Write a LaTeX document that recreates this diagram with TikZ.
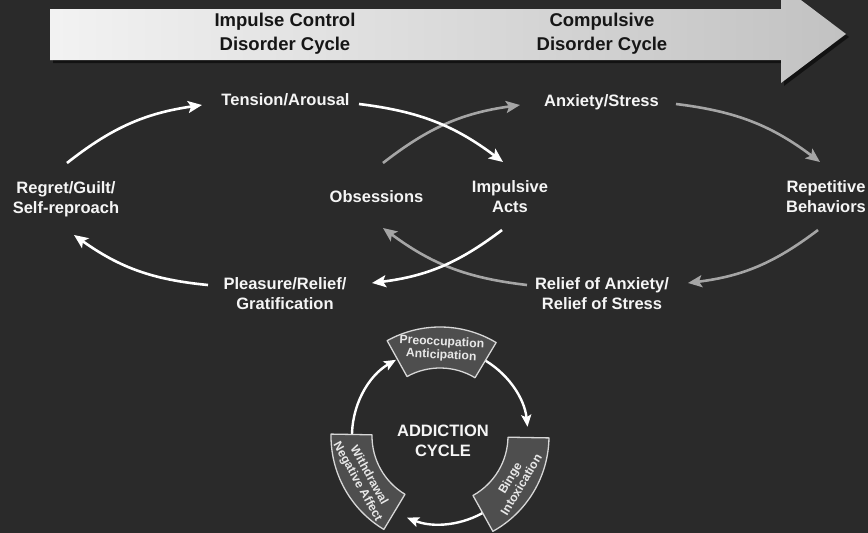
\documentclass[tikz,border=0pt]{standalone}
\usepackage{fontspec}
\setmainfont{Liberation Sans}
\usetikzlibrary{arrows.meta,calc}
\definecolor{bg}{RGB}{42,42,42}
\definecolor{lbl}{RGB}{245,245,245}
\definecolor{gar}{RGB}{165,165,165}
\definecolor{boxfill}{RGB}{78,78,78}
\definecolor{boxline}{RGB}{215,215,215}
\definecolor{boxtxt}{RGB}{232,232,232}
\definecolor{hdr}{RGB}{22,22,22}
\begin{document}
\begin{tikzpicture}[x=1pt,y=1pt,
  lab/.style={text=lbl, font=\fontsize{16.5}{20}\selectfont\bfseries, align=center, inner sep=0pt},
  hdrlab/.style={text=hdr, font=\fontsize{18.5}{24}\selectfont\bfseries, align=center, inner sep=0pt},
  warrow/.style={draw=white, line width=2.6pt, -{Stealth[length=14pt,width=12pt,inset=3pt]}},
  garrow/.style={warrow, draw=gar},
  carrow/.style={draw=white, line width=2.4pt, -{Stealth[length=12pt,width=10pt,inset=2.5pt]}},
  ringbox/.style={fill=boxfill, draw=boxline, line width=1.3pt, line join=round},
  boxlab/.style={text=boxtxt, font=\fontsize{12.2}{13}\selectfont\bfseries, align=center, inner sep=0pt}
]
\useasboundingbox (0,0) rectangle (868,-533);
\fill[bg] (0,0) rectangle (868,-533);
% header arrow
\fill[black, opacity=0.55] (53,-12) -- (784,-12) -- (784,12) -- (849,-37) -- (784,-86) -- (784,-63) -- (53,-63) -- cycle;
\shade[left color=white!95!black, right color=white!76!black] (50,-9) -- (781,-9) -- (781,15) -- (846,-34) -- (781,-83) -- (781,-60) -- (50,-60) -- cycle;
\node[hdrlab] (h1) at (285,-34) {Impulse Control\\Disorder Cycle};
\node[hdrlab] (h2) at (602,-34) {Compulsive\\Disorder Cycle};
% labels
\node[lab] (ten) at (285.5,-100) {Tension/Arousal};
\node[lab] (anx) at (601.5,-102) {Anxiety/Stress};
\node[lab] (reg) at (66,-199) {Regret/Guilt/\\Self-reproach};
\node[lab] (obs) at (376.5,-196.5) {Obsessions};
\node[lab] (imp) at (510,-197) {Impulsive\\Acts};
\node[lab] (rep) at (826,-197) {Repetitive\\Behaviors};
\node[lab] (ple) at (285,-294) {Pleasure/Relief/\\Gratification};
\node[lab] (rel) at (602,-294) {Relief of Anxiety/\\Relief of Stress};
% gray cycle
\draw[garrow] ($(obs)+(6.5,33.5)$) to[bend left=15] ($(anx)+(-81.5,-3)$);
\draw[garrow] ($(anx)+(74.5,-2)$) to[bend left=15] ($(rep)+(-6,35)$);
\draw[garrow] ($(rep)+(-8,-33)$) to[bend left=15] ($(rel)+(86,11)$);
\draw[garrow] ($(rel)+(-75,9)$) to[bend left=15] ($(obs)+(6.5,-31.5)$);
% white cycle
\draw[warrow] ($(reg)+(1,36)$) to[bend left=15] ($(ten)+(-83.5,-5)$);
\draw[warrow] ($(ten)+(73.5,-4)$) to[bend left=15] ($(imp)+(-7,35)$);
\draw[warrow] ($(imp)+(-8,-33)$) to[bend left=15] ($(ple)+(87,11)$);
\draw[warrow] ($(ple)+(-77,9)$) to[bend left=15] ($(reg)+(8,-36)$);
% addiction cycle
\coordinate (C) at (440,-436);
\draw[carrow] ($(C)+(62:88)$) arc[start angle=62, end angle=6, radius=88pt];
\draw[carrow] ($(C)+(-58:88)$) arc[start angle=-58, end angle=-112, radius=88pt];
\draw[carrow] ($(C)+(-178:88)$) arc[start angle=-178, end angle=-240, radius=88pt];
\draw[ringbox] ($(C)+(59:68)$) -- ($(C)+(59:109)$) arc[start angle=59, end angle=119, radius=109pt] -- ($(C)+(119:68)$) arc[start angle=119, end angle=59, radius=68pt] -- cycle;
\draw[ringbox] ($(C)+(-61:68)$) -- ($(C)+(-61:109)$) arc[start angle=-61, end angle=-1, radius=109pt] -- ($(C)+(-1:68)$) arc[start angle=-1, end angle=-61, radius=68pt] -- cycle;
\draw[ringbox] ($(C)+(179:68)$) -- ($(C)+(179:109)$) arc[start angle=179, end angle=239, radius=109pt] -- ($(C)+(239:68)$) arc[start angle=239, end angle=179, radius=68pt] -- cycle;
\node[boxlab, rotate=-3] (pre) at ($(C)+(89:87)$) {Preoccupation\\Anticipation};
\node[boxlab, rotate=59] (bin) at ($(C)+(-31:88)$) {Binge\\Intoxication};
\node[boxlab, rotate=-61] (wit) at ($(C)+(209:88)$) {Withdrawal\\Negative Affect};
\node[lab] (add) at (443,-441) {ADDICTION\\CYCLE};
\end{tikzpicture}
\end{document}
